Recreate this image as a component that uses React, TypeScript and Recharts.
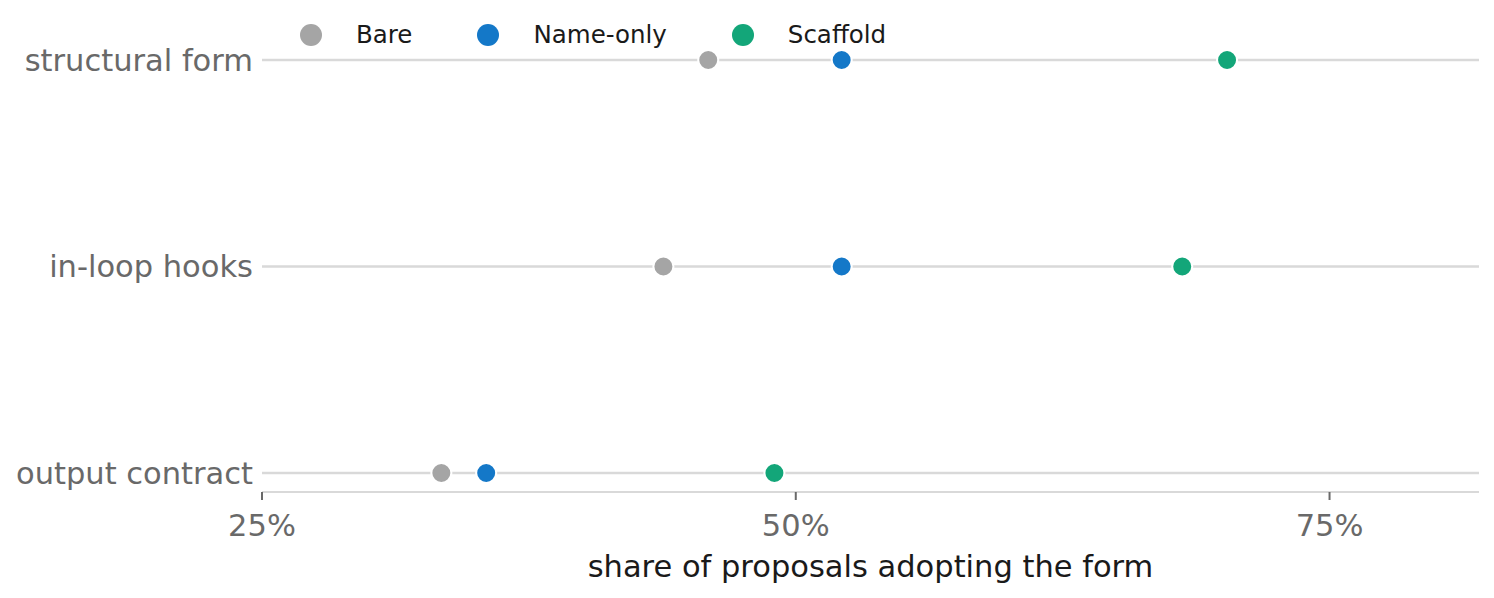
import React from 'react';
import {
  ScatterChart,
  Scatter,
  XAxis,
  YAxis,
  CartesianGrid,
} from 'recharts';

// rows, bottom to top
const categories = ['output contract', 'in-loop hooks', 'structural form'];

const bareValues = [33.4, 43.8, 45.9];
const nameOnlyValues = [35.5, 52.15, 52.15];
const scaffoldValues = [49.0, 68.1, 70.2];

const xTicks = [25, 50, 75];
const rowTicks = categories.map((_, i) => i);

const seriesList = [
  { name: 'Bare', color: '#a5a5a5', values: bareValues },
  { name: 'Name-only', color: '#1478c8', values: nameOnlyValues },
  { name: 'Scaffold', color: '#13a679', values: scaffoldValues },
];

const FONT = '"DejaVu Sans", sans-serif';
const GRID = '#d9d9d9';
const LABEL = '#696969';
const FS = 30.5;

const toPoints = (values: number[]) =>
  values.map((v, i) => ({ x: v, y: i }));

const Dot = (props: any) => {
  const { cx, cy, fill } = props;
  if (cx == null || cy == null) return null;
  return <circle cx={cx} cy={cy} r={10} fill={fill} stroke="#ffffff" strokeWidth={2} />;
};

// legend sits over the plot, like matplotlib's in-axes legend
const TopLegend = () => (
  <div
    style={{
      position: 'absolute',
      top: 21,
      left: 300,
      display: 'flex',
      alignItems: 'center',
      fontFamily: FONT,
      fontSize: 24.5,
      lineHeight: '28px',
      color: '#1a1a1a',
    }}
  >
    {seriesList.map((s) => (
      <div key={s.name} style={{ display: 'flex', alignItems: 'center', marginRight: 65 }}>
        <span
          style={{
            display: 'inline-block',
            width: 22,
            height: 22,
            borderRadius: '50%',
            background: s.color,
            marginRight: 34,
          }}
        />
        <span>{s.name}</span>
      </div>
    ))}
  </div>
);

export default function App() {
  return (
    <div style={{ position: 'absolute', left: 0, top: 0, width: 1494, height: 598, background: '#fff' }}>
      <ScatterChart
        width={1494}
        height={598}
        margin={{ top: 41, right: 15, bottom: 0, left: 0 }}
      >
        <CartesianGrid vertical={false} syncWithTicks stroke={GRID} strokeWidth={2.5} />
        <XAxis
          type="number"
          dataKey="x"
          domain={[25, 82]}
          ticks={xTicks}
          tickFormatter={(v) => `${v}%`}
          height={106}
          axisLine={{ stroke: GRID, strokeWidth: 2 }}
          tickLine={{ stroke: LABEL, strokeWidth: 2 }}
          tickSize={8}
          tickMargin={14}
          tick={{ fill: LABEL, fontSize: FS, fontFamily: FONT }}
          label={{
            value: 'share of proposals adopting the form',
            position: 'insideBottom',
            offset: 21,
            fill: '#1a1a1a',
            fontSize: FS,
            fontFamily: FONT,
          }}
        />
        <YAxis
          type="number"
          dataKey="y"
          domain={[-0.092, 2.092]}
          ticks={rowTicks}
          tickFormatter={(v) => categories[v] ?? ''}
          width={262}
          axisLine={false}
          tickLine={false}
          tickSize={0}
          tickMargin={9}
          tick={{ fill: LABEL, fontSize: FS, fontFamily: FONT }}
        />
        {seriesList.map((s) => (
          <Scatter
            key={s.name}
            name={s.name}
            data={toPoints(s.values)}
            fill={s.color}
            shape={<Dot />}
            isAnimationActive={false}
          />
        ))}
      </ScatterChart>
      <TopLegend />
    </div>
  );
}
